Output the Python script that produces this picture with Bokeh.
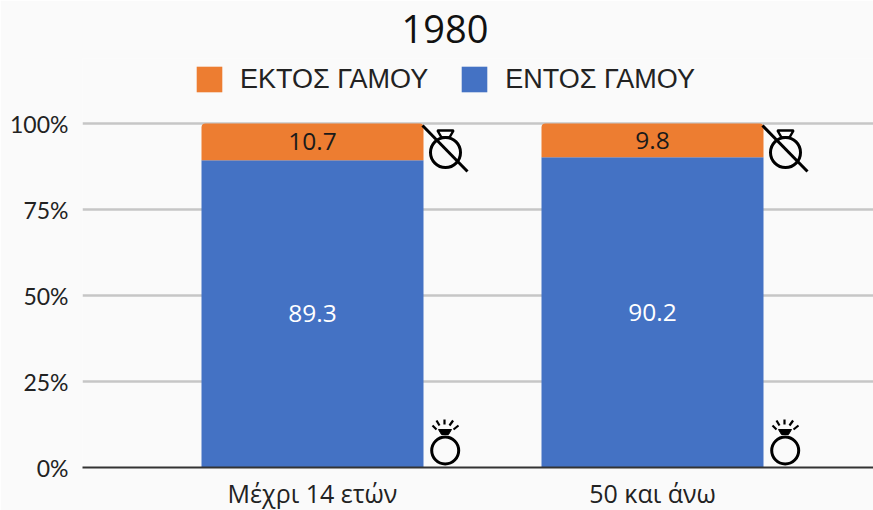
from bokeh.embed import file_html
from bokeh.resources import INLINE
from bokeh.plotting import figure
from bokeh.models import ColumnDataSource, FixedTicker, Legend, LegendItem, Title
from bokeh.core.properties import value

title = "1980"
categories = ["Μέχρι 14 ετών", "50 και άνω"]
inside = [89.3, 90.2]
outside = [10.7, 9.8]
series_names = ["ΕΚΤΟΣ ΓΑΜΟΥ", "ΕΝΤΟΣ ΓΑΜΟΥ"]
y_ticks = [0, 25, 50, 75, 100]

BLUE, ORANGE, BG = "#4472c4", "#ed7d31", "#fafafa"
FONT = "Open Sans"
PX_X, PX_Y = 340.0, 3.44   # screen pixels per data unit
BAR_W = 222 / PX_X

xs = list(range(len(categories)))
src = ColumnDataSource(dict(
    x=xs, zero=[0] * len(xs), inside=inside,
    total=[a + b for a, b in zip(inside, outside)],
    in_mid=[a / 2 for a in inside],
    out_mid=[a + b / 2 for a, b in zip(inside, outside)],
    in_txt=[f"{v:.1f}" for v in inside],
    out_txt=[f"{v:.1f}" for v in outside],
))

p = figure(frame_width=791, frame_height=409,
           min_border_left=82, min_border_right=0, min_border_bottom=43, min_border_top=58,
           x_range=(-230 / PX_X, 561 / PX_X), y_range=(0, 409 / PX_Y),
           output_backend="svg", toolbar_location=None,
           background_fill_color=BG, border_fill_color=BG, outline_line_color=None)

p.title = Title(text=title, align="left", vertical_align="top", offset=319, text_font=FONT,
                text_font_size="38px", text_font_style="normal", text_color="#111111", standoff=27)

p.xgrid.visible = False
p.ygrid.ticker = FixedTicker(ticks=y_ticks)
p.ygrid.grid_line_color = "#c6c6c6"
p.ygrid.grid_line_width = 2.5

p.yaxis.ticker = FixedTicker(ticks=y_ticks)
p.yaxis.major_label_overrides = {t: f"{t}%" for t in y_ticks}
p.yaxis.axis_line_color = None
p.yaxis.major_tick_line_color = None
p.yaxis.minor_tick_line_color = None
p.yaxis.major_label_standoff = 8
p.yaxis.major_label_text_font = "Lato"
p.yaxis.major_label_text_font_size = "23px"
p.yaxis.major_label_text_color = "#222222"

p.xaxis.ticker = FixedTicker(ticks=xs)
p.xaxis.major_label_overrides = dict(zip(xs, categories))
p.xaxis.axis_line_color = "#333333"
p.xaxis.axis_line_width = 2
p.xaxis.major_tick_line_color = None
p.xaxis.minor_tick_line_color = None
p.xaxis.major_label_standoff = 2
p.xaxis.major_label_text_font = FONT
p.xaxis.major_label_text_font_size = "25px"
p.xaxis.major_label_text_color = "#222222"

r_in = p.vbar(x="x", bottom="zero", top="inside", width=BAR_W, source=src,
              fill_color=BLUE, line_color=None)
r_out = p.vbar(x="x", bottom="inside", top="total", width=BAR_W, source=src,
               fill_color=ORANGE, line_color=None, border_radius=(4, 4, 0, 0))

p.text(x="x", y="in_mid", text="in_txt", source=src, text_align="center", text_baseline="middle",
       text_color="#ffffff", text_font=value(FONT), text_font_size="24.5px")
p.text(x="x", y="out_mid", text="out_txt", source=src, text_align="center", text_baseline="middle",
       text_color="#1a1a1a", text_font=value(FONT), text_font_size="24.5px")

# ring icons, placed relative to each bar's right edge
INK = "#000000"
for x in xs:
    edge = x + BAR_W / 2
    gx = lambda d: edge + d / PX_X
    # ring with a line through it, beside the top of the bar
    p.scatter([gx(22)], [(467 - 152) / PX_Y], size=30, marker="circle",
              fill_color=None, line_color=INK, line_width=3)
    p.patch([gx(14), gx(30), gx(26), gx(18)],
            [(467 - 130) / PX_Y, (467 - 130) / PX_Y, (467 - 137) / PX_Y, (467 - 137) / PX_Y],
            fill_color=None, line_color=INK, line_width=2.5)
    p.line([gx(-1), gx(44)], [(467 - 125) / PX_Y, (467 - 171) / PX_Y], line_color=INK, line_width=3)
    # ring with a stone, beside the foot of the bar
    p.scatter([gx(21.7)], [(467 - 450) / PX_Y], size=27, marker="circle",
              fill_color=None, line_color=INK, line_width=3)
    p.patch([gx(15), gx(28), gx(25), gx(18)],
            [(467 - 429) / PX_Y, (467 - 429) / PX_Y, (467 - 434) / PX_Y, (467 - 434) / PX_Y],
            fill_color=INK, line_color=INK, line_width=1)
    for a, b, c, d in [(9, 425, 13, 429), (13, 420, 16, 425), (21, 419, 21, 424),
                       (29.6, 420, 26, 425), (35, 425, 30, 429)]:
        p.line([gx(a), gx(c)], [(467 - b) / PX_Y, (467 - d) / PX_Y], line_color=INK, line_width=2.2)

legend = Legend(items=[LegendItem(label=series_names[0], renderers=[r_out]),
                       LegendItem(label=series_names[1], renderers=[r_in])],
                orientation="horizontal", location=(111, 372),
                background_fill_alpha=0, border_line_color=None, margin=0, padding=0,
                glyph_width=32, glyph_height=32, label_standoff=15, spacing=30, label_height=32,
                label_text_font="Liberation Sans", label_text_font_size="27px", label_text_color="#222222")
p.add_layout(legend, "center")

open("out.html", "w").write(file_html(p, INLINE))
